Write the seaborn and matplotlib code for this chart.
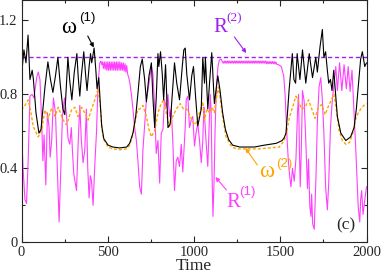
import numpy as np
import pandas as pd
import matplotlib
matplotlib.use("Agg")
import matplotlib.pyplot as plt
import seaborn as sns
from matplotlib.ticker import MultipleLocator

# ---------------- data ----------------
w1_time = [0, 14, 26, 38, 49, 62, 69, 84, 101, 113,
           124, 136, 153, 168, 182, 197, 211, 225, 240, 251,
           269, 280, 292, 306, 321, 329, 338, 347, 361, 373,
           380, 392, 400, 407, 421, 431, 438, 448, 458, 465,
           477, 502, 529, 569, 610, 627, 646, 662, 675, 689,
           700, 714, 724, 739, 753, 762, 772, 781, 791, 796,
           806, 816, 824, 835, 849, 862, 874, 887, 900, 916,
           932, 941, 949, 958, 974, 987, 997, 1009, 1022, 1042,
           1051, 1061, 1066, 1080, 1090, 1103, 1118, 1138, 1151, 1166,
           1182, 1201, 1224, 1265, 1350, 1407, 1477, 1511, 1523, 1533,
           1542, 1551, 1570, 1579, 1589, 1598, 1614, 1629, 1648, 1668,
           1687, 1706, 1715, 1731, 1744, 1753, 1763, 1773, 1781, 1791,
           1800, 1810, 1822, 1831, 1851, 1880, 1908, 1928, 1941, 1952,
           1966, 1976, 1990, 2000]
w1_vals = [0.90, 1.04, 0.97, 1.12, 0.88, 0.93, 0.88, 0.70, 0.59, 0.61,
           0.72, 0.84, 0.975, 0.88, 0.81, 0.90, 1.0, 0.85, 0.72, 0.69,
           1.0, 0.87, 0.77, 0.92, 1.02, 0.89, 0.79, 0.90, 1.03, 0.89,
           0.82, 0.95, 1.02, 0.97, 1.05, 0.93, 0.83, 0.89, 0.73, 0.63,
           0.56, 0.525, 0.515, 0.51, 0.515, 0.535, 0.59, 0.68, 0.805, 0.95,
           0.99, 0.88, 0.76, 0.90, 0.97, 0.78, 0.62, 0.78, 1.02, 0.95,
           1.03, 0.91, 0.77, 0.96, 0.62, 0.64, 0.80, 0.97, 0.86, 0.77,
           0.95, 1.04, 1.05, 0.91, 0.77, 0.90, 0.95, 0.79, 0.63, 0.72,
           1.0, 0.86, 1.0, 0.72, 0.86, 1.025, 0.75, 0.90, 0.82, 0.70,
           0.61, 0.555, 0.525, 0.515, 0.515, 0.525, 0.535, 0.55, 0.565, 0.59,
           0.70, 0.82, 1.02, 0.88, 0.86, 1.02, 0.88, 1.04, 0.86, 1.02,
           0.89, 1.0, 0.92, 1.06, 1.15, 1.0, 1.03, 0.93, 0.86, 0.88,
           0.82, 0.93, 0.79, 0.68, 0.59, 0.55, 0.57, 0.62, 0.72, 0.84,
           0.99, 1.03, 0.95, 0.97]

w2_time = [0, 20, 39, 55, 68, 97, 117, 136, 155, 175,
           194, 213, 242, 261, 290, 309, 328, 348, 367, 386,
           406, 425, 444, 457, 465, 477, 502, 529, 569, 610,
           627, 646, 662, 675, 685, 704, 724, 739, 753, 772,
           791, 810, 824, 839, 858, 877, 897, 920, 939, 958,
           974, 993, 1009, 1032, 1051, 1061, 1074, 1090, 1105, 1118,
           1132, 1142, 1153, 1166, 1186, 1215, 1244, 1379, 1494, 1523,
           1536, 1552, 1571, 1591, 1606, 1625, 1644, 1664, 1683, 1702,
           1721, 1741, 1760, 1779, 1796, 1811, 1825, 1841, 1860, 1880,
           1903, 1922, 1938, 1953, 1966, 1985, 2000]
w2_vals = [0.715, 0.74, 0.77, 0.70, 0.625, 0.57, 0.605, 0.715, 0.67, 0.725,
           0.68, 0.73, 0.66, 0.635, 0.715, 0.73, 0.68, 0.73, 0.70, 0.66,
           0.72, 0.77, 0.83, 0.74, 0.62, 0.555, 0.515, 0.505, 0.50, 0.505,
           0.525, 0.58, 0.67, 0.72, 0.72, 0.74, 0.68, 0.61, 0.57, 0.605,
           0.70, 0.75, 0.77, 0.70, 0.625, 0.68, 0.72, 0.75, 0.72, 0.72,
           0.69, 0.65, 0.635, 0.70, 0.76, 0.66, 0.72, 0.70, 0.73, 0.70,
           0.79, 0.84, 0.77, 0.68, 0.57, 0.52, 0.505, 0.505, 0.515, 0.55,
           0.59, 0.67, 0.73, 0.79, 0.76, 0.72, 0.73, 0.77, 0.72, 0.67,
           0.73, 0.745, 0.69, 0.735, 0.77, 0.80, 0.72, 0.605, 0.55, 0.53,
           0.54, 0.595, 0.67, 0.70, 0.72, 0.74, 0.75]

r1_time = [0, 9, 20, 29, 39, 49, 61, 72, 88, 97,
           107, 117, 124, 131, 141, 150, 160, 166, 175, 185,
           197, 208, 218, 228, 237, 249, 260, 270, 280, 289,
           295, 303, 319, 329, 338, 347, 357, 367, 376, 384,
           392, 399, 406, 415, 425, 435, 444, 454, 460,
           465, 470, 475, 480, 485, 490, 495, 500, 505, 510,
           515, 520, 525, 530, 535, 540, 545, 550, 555, 560,
           565, 570, 575, 580, 585, 590, 595, 600, 605, 610, 615,
           622, 630, 637, 646, 656, 666, 675, 685, 695,
           704, 724, 733, 753, 762, 772, 781, 791, 801, 810,
           820, 829, 839, 849, 858, 868, 877, 887, 897, 906,
           916, 926, 935, 949, 955, 964, 974, 984, 993, 1003,
           1013, 1022, 1032, 1042, 1051, 1057, 1061, 1071, 1080, 1087,
           1094, 1099, 1105, 1110, 1116, 1122, 1130, 1139, 1147, 1157, 1165,
           1170, 1175, 1180, 1185, 1190, 1195, 1200, 1205, 1210, 1215,
           1220, 1225, 1230, 1235, 1240, 1245, 1250, 1255, 1260, 1265,
           1270, 1275, 1280, 1285, 1290, 1295, 1300, 1305, 1310, 1315,
           1320, 1325, 1330, 1335, 1340, 1345, 1350, 1355, 1360, 1365,
           1370, 1375, 1380, 1385, 1390, 1395, 1400, 1405, 1410, 1415,
           1420, 1425, 1430, 1435, 1440, 1445, 1450, 1455, 1460, 1465,
           1470, 1475, 1480,
           1490, 1506, 1520, 1528, 1534, 1540, 1547, 1555, 1562,
           1571, 1581, 1591, 1600, 1606, 1611, 1616, 1622, 1629, 1639,
           1648, 1658, 1664, 1671, 1678, 1682, 1688, 1697, 1707, 1715,
           1725, 1735, 1744, 1753, 1763, 1773, 1781, 1791, 1802, 1812,
           1822, 1831, 1844, 1857, 1870, 1883, 1894, 1905, 1916, 1928,
           1938, 1947, 1952, 1961, 1966, 1972, 1980, 1990, 2000]
r1_vals = [0.61, 0.40, 0.23, 0.21, 0.45, 0.79, 0.80, 0.78, 0.89, 0.92,
           0.88, 0.65, 0.44, 0.58, 0.31, 0.70, 0.62, 0.46, 0.55, 0.78,
           0.70, 0.40, 0.11, 0.40, 0.68, 0.78, 0.70, 0.56, 0.53, 0.62,
           0.50, 0.37, 0.28, 0.55, 0.74, 0.55, 0.43, 0.50, 0.72, 0.40,
           0.24, 0.36, 0.33, 0.20, 0.42, 0.60, 0.86, 0.97, 0.98,
           0.96, 0.975, 0.94, 0.975, 0.935, 0.975, 0.93, 0.975, 0.93, 0.975,
           0.93, 0.975, 0.93, 0.975, 0.93, 0.975, 0.93, 0.975, 0.93, 0.975,
           0.93, 0.975, 0.93, 0.97, 0.93, 0.97, 0.925, 0.965, 0.92, 0.955, 0.91,
           0.89, 0.85, 0.80, 0.72, 0.62, 0.55, 0.44, 0.30, 0.26,
           0.50, 0.77, 0.82, 0.95, 0.91, 0.73, 0.48, 0.55, 0.32, 0.59,
           0.61, 0.77, 0.73, 0.80, 0.68, 0.72, 0.55, 0.28, 0.44, 0.46,
           0.41, 0.53, 0.38, 0.62, 0.77, 0.79, 0.62, 0.66, 0.68, 0.52,
           0.60, 0.64, 0.55, 0.43, 0.55, 0.73, 0.68, 0.53, 0.41, 0.60,
           0.80, 0.72, 0.35, 0.14, 0.32, 0.60, 0.85, 0.95, 0.985, 0.99, 0.975,
           0.968, 0.98, 0.968, 0.98, 0.968, 0.98, 0.968, 0.98, 0.968, 0.98,
           0.968, 0.98, 0.968, 0.98, 0.968, 0.98, 0.968, 0.98, 0.968, 0.98,
           0.968, 0.98, 0.968, 0.98, 0.968, 0.98, 0.968, 0.98, 0.968, 0.98,
           0.968, 0.98, 0.968, 0.98, 0.968, 0.98, 0.968, 0.98, 0.968, 0.98,
           0.968, 0.98, 0.968, 0.98, 0.968, 0.98, 0.968, 0.98, 0.968, 0.98,
           0.965, 0.977, 0.965, 0.977, 0.965, 0.977, 0.965, 0.977, 0.965, 0.977,
           0.963, 0.975, 0.962,
           0.96, 0.95, 0.90, 0.80, 0.68, 0.55, 0.44, 0.355, 0.30,
           0.40, 0.33, 0.45, 0.70, 0.80, 0.50, 0.30, 0.50, 0.82, 0.76,
           0.55, 0.29, 0.45, 0.20, 0.14, 0.26, 0.10, 0.07, 0.35, 0.65,
           0.84, 0.89, 0.77, 0.59, 0.30, 0.175, 0.32, 0.62, 0.77, 0.86,
           0.95, 0.82, 0.97, 0.82, 0.96, 0.83, 0.95, 0.815, 0.93, 0.70,
           0.50, 0.30, 0.19, 0.11, 0.23, 0.28, 0.15, 0.23, 0.30]

r2_time = [0, 2000]
r2_vals = [1.0, 1.0]

x_ticks = [0, 500, 1000, 1500, 2000]
y_ticks = [0, 0.4, 0.8, 1.2]
y_tick_labels = ["0", "0.4", "0.8", "1.2"]

# ---------------- style ----------------
sns.set_style("ticks")
plt.rcParams['font.family'] = ['Liberation Serif', 'DejaVu Serif']

C_W1 = 'black'
C_W2 = '#ffa500'
C_R1 = '#ff40ff'
C_R2 = '#a020f0'

fig = plt.figure(figsize=(3.82, 2.74), dpi=100)
ax = fig.add_axes([21.5 / 382, 31.7 / 274, 345 / 382, 242 / 274])

df_r1 = pd.DataFrame({'Time': r1_time, 'v': r1_vals})
df_r2 = pd.DataFrame({'Time': r2_time, 'v': r2_vals})
df_w1 = pd.DataFrame({'Time': w1_time, 'v': w1_vals})
df_w2 = pd.DataFrame({'Time': w2_time, 'v': w2_vals})


def draw(df, color, lw, ls='-', z=2):
    n0 = len(ax.get_lines())
    sns.lineplot(data=df, x='Time', y='v', ax=ax, color=color, sort=False,
                 estimator=None)
    ln = ax.get_lines()[n0]
    ln.set_color(color)
    ln.set_linewidth(lw)
    ln.set_linestyle(ls)
    ln.set_zorder(z)
    return ln


draw(df_r2, C_R2, 1.0, ls=(0, (3.0, 2.0)), z=1.9)
draw(df_r1, C_R1, 0.8, z=2.0)
draw(df_w2, C_W2, 1.0, ls=(0, (2.2, 1.4)), z=2.1)
draw(df_w1, C_W1, 0.8, z=2.2)

ax.set_xlim(0, 2000)
ax.set_ylim(0, 1.308)
ax.set_xticks(x_ticks)
ax.set_yticks(y_ticks)
ax.set_yticklabels(y_tick_labels)
ax.xaxis.set_minor_locator(MultipleLocator(250))
ax.yaxis.set_minor_locator(MultipleLocator(0.2))
ax.tick_params(which='major', direction='in', top=True, right=True,
               length=4, width=0.8, labelsize=10.5, pad=3)
ax.tick_params(which='minor', direction='in', top=True, right=True,
               length=2.2, width=0.8)
for s in ax.spines.values():
    s.set_linewidth(0.8)
ax.set_xlabel('Time', fontsize=12.5, labelpad=-1)
ax.set_ylabel('')

# ---------------- annotations ----------------
SERIF = ['Liberation Serif', 'DejaVu Serif']
SANS = ['Liberation Sans', 'DejaVu Sans']


def label(t, v, main, sup, ts, vs, color, size=15, supfam=SANS):
    ax.text(t, v, main, color=color, fontsize=size, ha='left', va='baseline',
            family=SERIF)
    ax.text(ts, vs, sup, color=color, fontsize=9.5, ha='left', va='baseline',
            family=supfam)


def arrow(t0, v0, t1, v1, color):
    ax.annotate('', xy=(t1, v1), xytext=(t0, v0),
                arrowprops=dict(arrowstyle='-|>', color=color, lw=0.8,
                                mutation_scale=6, shrinkA=0, shrinkB=0))


label(232, 1.131, 'ω', '(1)', 332, 1.196, C_W1, size=16.5)
arrow(384, 1.115, 419, 1.053, C_W1)

label(1113, 1.137, 'R', '(2)', 1188, 1.196, C_R2, size=15, supfam=SERIF)
arrow(1234, 1.110, 1303, 1.023, C_R2)

label(1376, 0.353, 'ω', '(2)', 1478, 0.407, C_W2, size=16.5)
arrow(1367, 0.418, 1298, 0.51, C_W2)

label(1186, 0.192, 'R', '(1)', 1263, 0.256, C_R1, size=15)
arrow(1188, 0.283, 1124, 0.353, C_R1)

ax.text(1880, 0.072, '(c)', fontsize=12.5, ha='center', va='baseline')

fig.savefig('out.png', dpi=100)
